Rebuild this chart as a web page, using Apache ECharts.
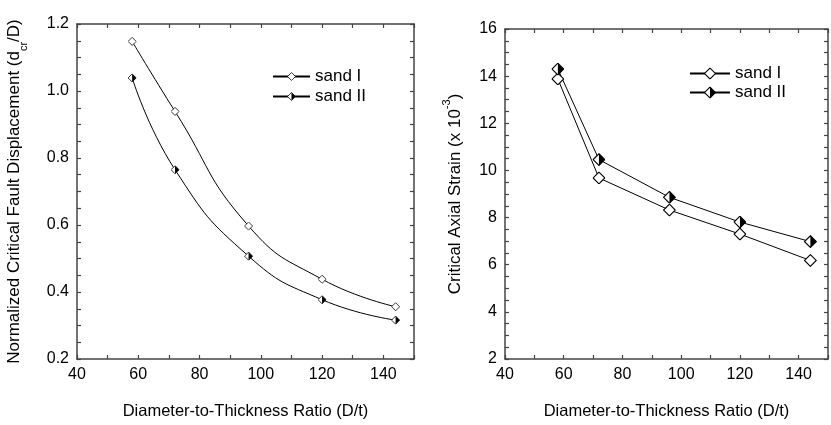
<!DOCTYPE html>
<html>
<head>
<meta charset="utf-8">
<script src="https://cdn.jsdelivr.net/npm/echarts@6/dist/echarts.min.js"></script>
<style>
  html, body { margin: 0; padding: 0; background: #fff; }
  #chart { width: 831px; height: 425px; }
</style>
</head>
<body>
<div id="chart"></div>
<script>
// data
var ratios = [58, 72, 96, 120, 144];
var dispSandI = [1.148, 0.939, 0.597, 0.438, 0.356];
var dispSandII = [1.039, 0.765, 0.507, 0.377, 0.316];
var strainSandI = [13.88, 9.68, 8.32, 7.30, 6.18];
var strainSandII = [14.30, 10.46, 8.86, 7.81, 6.98];
var xTicks = [40, 60, 80, 100, 120, 140];

function pairs(xs, ys) {
    return xs.map(function (x, i) { return [x, ys[i]]; });
}

// diamond markers as small svg images
var openDiamond = 'image://data:image/svg+xml;utf8,' + encodeURIComponent(
    "<svg xmlns='http://www.w3.org/2000/svg' width='40' height='40'>" +
    "<path d='M20 2 L38 20 L20 38 L2 20 Z' fill='white' stroke='black' stroke-width='3.5'/></svg>");
var halfDiamond = 'image://data:image/svg+xml;utf8,' + encodeURIComponent(
    "<svg xmlns='http://www.w3.org/2000/svg' width='40' height='40'>" +
    "<path d='M20 2 L38 20 L20 38 L2 20 Z' fill='white' stroke='black' stroke-width='3.5'/>" +
    "<path d='M20 2 L38 20 L20 38 Z' fill='black'/></svg>");

var font = 'Liberation Sans';
var axisCol = '#444';

function xAxisBase(gridIndex, pos, showLabel, name) {
    return {
        type: 'value', gridIndex: gridIndex, position: pos,
        min: 40, max: 150, interval: 10,
        name: name || '', nameLocation: 'middle', nameGap: 44,
        nameTextStyle: { fontFamily: font, fontSize: 16.5, color: '#000' },
        axisLine: { show: true, onZero: false, lineStyle: { color: axisCol, width: 1.5 } },
        axisTick: { show: true, inside: true, length: 4, lineStyle: { color: axisCol, width: 1.2 } },
        axisLabel: {
            show: showLabel, fontFamily: font, fontSize: 16, color: '#000', margin: 8,
            showMaxLabel: true,
            formatter: function (v) { return xTicks.indexOf(v) >= 0 ? String(v) : ''; }
        },
        splitLine: { show: false }
    };
}

function yAxisBase(gridIndex, pos, showLabel, min, max, interval, fmt, name, nameGap) {
    return {
        type: 'value', gridIndex: gridIndex, position: pos,
        min: min, max: max, interval: interval,
        name: name || '', nameLocation: 'middle', nameGap: nameGap || 0,
        nameTextStyle: {
            fontFamily: font, fontSize: 17, color: '#000',
            rich: {
                a: { fontFamily: font, fontSize: 17, color: '#000' },
                sub: { fontFamily: font, fontSize: 11, color: '#000', verticalAlign: 'bottom', padding: [0, 0, -6, 0] },
                sup: { fontFamily: font, fontSize: 11, color: '#000', verticalAlign: 'top', padding: [-6, 0, 0, 0] }
            }
        },
        axisLine: { show: true, onZero: false, lineStyle: { color: axisCol, width: 1.5 } },
        axisTick: { show: true, inside: true, length: 4, lineStyle: { color: axisCol, width: 1.2 } },
        axisLabel: { show: showLabel, fontFamily: font, fontSize: 16, color: '#000', margin: 8, formatter: fmt },
        splitLine: { show: false }
    };
}

var leftFmt = function (v) {
    var k = Math.round(v * 100);
    return k % 20 === 0 ? (k / 100).toFixed(1) : '';
};
var rightFmt = function (v) {
    return Math.abs(v - Math.round(v)) < 1e-6 && Math.round(v) % 2 === 0 ? String(Math.round(v)) : '';
};

var chart = echarts.init(document.getElementById('chart'));
chart.setOption({
    animation: false,
    backgroundColor: '#fff',
    grid: [
        { left: 77, top: 24, width: 337, height: 338 },
        { left: 505, top: 29, width: 332, height: 334 }
    ],
    legend: [
        {
            left: 267, top: 63, orient: 'vertical', itemWidth: 37, itemHeight: 11, itemGap: 3,
            textStyle: { fontFamily: font, fontSize: 17, color: '#000' },
            data: ['sand I', 'sand II']
        },
        {
            left: 684, top: 60, orient: 'vertical', itemWidth: 40, itemHeight: 15, itemGap: 2,
            textStyle: { fontFamily: font, fontSize: 17, color: '#000' },
            data: ['sand I', 'sand II']
        }
    ],
    xAxis: [
        xAxisBase(0, 'bottom', true, 'Diameter-to-Thickness Ratio (D/t)'),
        xAxisBase(0, 'top', false),
        xAxisBase(1, 'bottom', true, 'Diameter-to-Thickness Ratio (D/t)'),
        xAxisBase(1, 'top', false)
    ],
    yAxis: [
        yAxisBase(0, 'left', true, 0.2, 1.2, 0.05, leftFmt,
            '{a|Normalized Critical Fault Displacement (d}{sub|cr}{a|/D)}', 54),
        yAxisBase(0, 'right', false, 0.2, 1.2, 0.05, leftFmt),
        yAxisBase(1, 'left', true, 2, 16, 0.5, rightFmt,
            '{a|Critical Axial Strain (x 10}{sup|-3}{a|)}', 41),
        yAxisBase(1, 'right', false, 2, 16, 0.5, rightFmt)
    ],
    series: [
        {
            name: 'sand I', type: 'line', xAxisIndex: 0, yAxisIndex: 0,
            smooth: 0.5,
            symbol: openDiamond, symbolSize: 9,
            lineStyle: { color: '#000', width: 1 }, itemStyle: { color: '#000' },
            data: pairs(ratios, dispSandI)
        },
        {
            name: 'sand II', type: 'line', xAxisIndex: 0, yAxisIndex: 0,
            smooth: 0.5,
            symbol: halfDiamond, symbolSize: 9,
            lineStyle: { color: '#000', width: 1 }, itemStyle: { color: '#000' },
            data: pairs(ratios, dispSandII)
        },
        {
            name: 'sand I', type: 'line', xAxisIndex: 2, yAxisIndex: 2,
            symbol: openDiamond, symbolSize: 13,
            lineStyle: { color: '#000', width: 1 }, itemStyle: { color: '#000' },
            data: pairs(ratios, strainSandI)
        },
        {
            name: 'sand II', type: 'line', xAxisIndex: 2, yAxisIndex: 2,
            symbol: halfDiamond, symbolSize: 13,
            lineStyle: { color: '#000', width: 1 }, itemStyle: { color: '#000' },
            data: pairs(ratios, strainSandII)
        }
    ]
});
</script>
</body>
</html>
